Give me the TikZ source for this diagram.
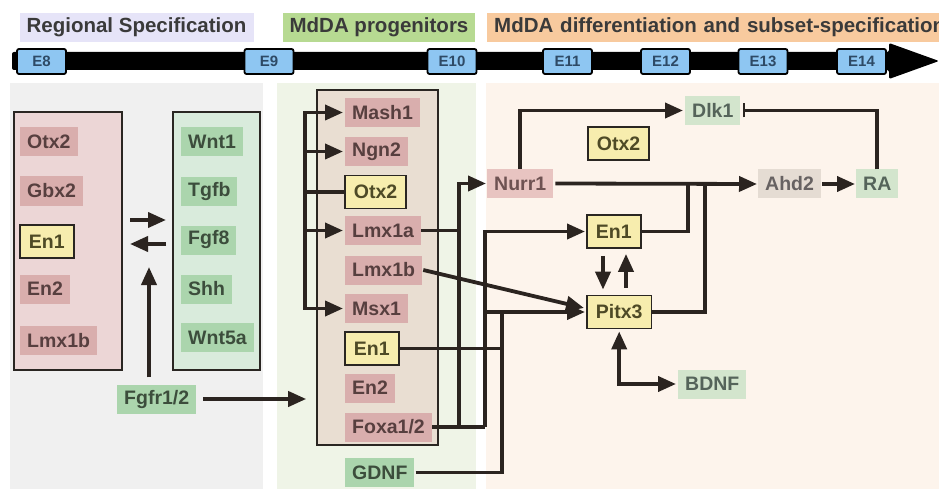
\documentclass[tikz,border=0pt]{standalone}
\usepackage{fontspec}
\setmainfont{Liberation Sans}
\usetikzlibrary{arrows.meta,calc}

% panel and label colours
\definecolor{panelgray}{HTML}{F0F0F0}
\definecolor{panelgreen}{HTML}{EFF4E7}
\definecolor{panelorange}{HTML}{FDF4EC}
\definecolor{hdrlav}{HTML}{E6E4F8}
\definecolor{hdrgreen}{HTML}{B7DA92}
\definecolor{hdrorange}{HTML}{F8CA9E}
\definecolor{hdrtext}{HTML}{3A3A3A}
\definecolor{tblue}{HTML}{8EC6F2}
\definecolor{ttext}{HTML}{2E4A66}
\definecolor{leftpink}{HTML}{ECD6D6}
\definecolor{leftgreen}{HTML}{D9EBDC}
\definecolor{midbeige}{HTML}{E9DED2}
\definecolor{pinkfill}{HTML}{D9AEAD}
\definecolor{pinktext}{HTML}{573F3F}
\definecolor{greenfill}{HTML}{ABD5AD}
\definecolor{greentext}{HTML}{3C4D3C}
\definecolor{lpinkfill}{HTML}{E8C4C1}
\definecolor{lpinktext}{HTML}{6E5252}
\definecolor{lgreenfill}{HTML}{D3E5CD}
\definecolor{lgreentext}{HTML}{55645A}
\definecolor{greyfill}{HTML}{E5DCD3}
\definecolor{greytext}{HTML}{676262}
\definecolor{yelfill}{HTML}{F7EDAE}
\definecolor{yeltext}{HTML}{4E4A26}
\definecolor{edge}{HTML}{2A2622}
\definecolor{wirecol}{HTML}{2B2420}

\tikzset{
  lblfont/.style={font=\bfseries\fontsize{19.5}{22}\selectfont},
  lbl/.style={lblfont, anchor=west, inner xsep=7, inner ysep=0, minimum height=29},
  pinklab/.style={lbl, fill=pinkfill, text=pinktext},
  greenlab/.style={lbl, fill=greenfill, text=greentext},
  lpinklab/.style={lbl, fill=lpinkfill, text=lpinktext},
  lgreenlab/.style={lbl, fill=lgreenfill, text=lgreentext},
  greylab/.style={lbl, fill=greyfill, text=greytext},
  yelbox/.style={lbl, fill=yelfill, text=yeltext, draw=edge, line width=1.8, inner xsep=9, minimum height=33},
  hdr/.style={font=\bfseries\fontsize{20.5}{23}\selectfont, text=hdrtext, inner xsep=7, inner ysep=0, minimum height=29},
  tbox/.style={font=\bfseries\fontsize{15}{17}\selectfont, text=ttext, fill=tblue, draw=black, line width=1.8,
               rounded corners=2, minimum width=49, minimum height=25, inner sep=0},
  group/.style={draw=edge, line width=1.6},
  wire/.style={draw=wirecol, line width=3.8},
  arr/.style={wire, -{Triangle[length=18,width=15]}},
  arrtwo/.style={wire, {Triangle[length=18,width=15]}-{Triangle[length=18,width=15]}},
  inh/.style={wire, -{Bar[width=14,line width=2.6]}},
}

\begin{document}
\begin{tikzpicture}[x=1pt,y=-1pt]
\useasboundingbox (0,0) rectangle (939,489);
\begin{scope}
\clip (0,0) rectangle (939,489);
\fill[white] (0,0) rectangle (939,489);

% stage panels
\fill[panelgray] (10,83) rectangle (263,489);
\fill[panelgreen] (277,83) rectangle (476,489);
\fill[panelorange] (486,83) rectangle (945,489);

% stage headers
\node[hdr, fill=hdrlav, minimum width=234] (hReg) at (136.5,27.5) {Regional Specification};
\node[hdr, fill=hdrgreen, minimum width=192] (hProg) at (379,27.5) {MdDA progenitors};
\node[hdr, fill=hdrorange, anchor=west, minimum width=470, text width=456] (hDiff) at (487,27.5)
  {MdDA differentiation and subset-specification};

% time axis
\fill[black, rounded corners=2] (12,52) -- (889,52) -- (889,43) -- (939,61) -- (889,79) -- (889,70) -- (12,70) -- cycle;
\node[tbox] (e8)  at (41.5,61.5) {E8};
\node[tbox] (e9)  at (269,61.5) {E9};
\node[tbox] (e10) at (452,61.5) {E10};
\node[tbox] (e11) at (567.5,61.5) {E11};
\node[tbox] (e12) at (665.5,61.5) {E12};
\node[tbox] (e13) at (763,61.5) {E13};
\node[tbox] (e14) at (861.5,61.5) {E14};

% regional specification groups
\node[group, fill=leftpink, minimum width=108, minimum height=258] (leftbox) at (68,241) {};
\node[group, fill=leftgreen, minimum width=87, minimum height=258] (rightbox) at (216.5,241) {};

\node[pinklab] (lOtx2) at (20,141.5) {Otx2};
\node[pinklab] (lGbx2) at (20,191) {Gbx2};
\node[yelbox]  (lEn1)  at (19,241.5) {En1};
\node[pinklab] (lEn2)  at (20,289) {En2};
\node[pinklab] (lLmx1b) at (20,340.5) {Lmx1b};

\node[greenlab] (gWnt1) at (181,142) {Wnt1};
\node[greenlab] (gTgfb) at (181,191.5) {Tgfb};
\node[greenlab] (gFgf8) at (181,240) {Fgf8};
\node[greenlab] (gShh)  at (181,289) {Shh};
\node[greenlab] (gWnt5a) at (181,337.5) {Wnt5a};

\node[greenlab] (Fgfr) at (117,399) {Fgfr1/2};

% progenitor group
\node[group, fill=midbeige, minimum width=121, minimum height=355] (midbox) at (377.5,267.5) {};
\node[pinklab] (mMash1) at (345,112.5) {Mash1};
\node[pinklab] (mNgn2)  at (345,151.5) {Ngn2};
\node[yelbox]  (mOtx2)  at (344,192) {Otx2};
\node[pinklab] (mLmx1a) at (345,230.5) {Lmx1a};
\node[pinklab] (mLmx1b) at (345,270) {Lmx1b};
\node[pinklab] (mMsx1)  at (345,308.5) {Msx1};
\node[yelbox]  (mEn1)   at (344,348.5) {En1};
\node[pinklab] (mEn2)   at (345,388) {En2};
\node[pinklab] (mFoxa)  at (345,427) {Foxa1/2};
\node[greenlab] (GDNF)  at (345,472.5) {GDNF};

% differentiation stage
\node[lpinklab]  (Nurr1) at (487,183.5) {Nurr1};
\node[yelbox]    (rOtx2) at (587,143.5) {Otx2};
\node[yelbox]    (rEn1)  at (586,231.5) {En1};
\node[yelbox]    (Pitx3) at (586,312) {Pitx3};
\node[lgreenlab] (Dlk1)  at (685,110.5) {Dlk1};
\node[greylab]   (Ahd2)  at (758,184) {Ahd2};
\node[lgreenlab] (RA)    at (856,184) {RA};
\node[lgreenlab] (BDNF)  at (678,384) {BDNF};

% routing columns
\coordinate (busx) at (305,0);
\coordinate (jA) at (459,0);
\coordinate (jB) at (485,0);
\coordinate (jC) at (502,0);
\coordinate (jD) at (688,0);
\coordinate (jE) at (705,0);
\coordinate (cDown) at (603,0);
\coordinate (cUp) at (626,0);
\coordinate (aR1) at (130,220);
\coordinate (aR2) at (166,220);
\coordinate (aL1) at (166,244);
\coordinate (aL2) at (130,244);
\coordinate (fgUp) at (149,267);

% exchange between the two regional groups
\draw[arr] (aR1) -- (aR2);
\draw[arr] (aL1) -- (aL2);
\draw[arr] ($(Fgfr.north -| fgUp)+(0,-7)$) -- (fgUp);
\draw[arr] ($(Fgfr.east)+(7,0)$) -- ($(Fgfr.east -| midbox.west)+(-10,0)$);

% Otx2 bus inside the progenitor stage
\draw[wire, line cap=rect] (mMash1.west -| busx) -- (mMsx1.west -| busx);
\draw[arr] (mMash1.west -| busx) -- ($(mMash1.west)+(-2,0)$);
\draw[arr] (mNgn2.west -| busx) -- ($(mNgn2.west)+(-2,0)$);
\draw[wire] (mOtx2.west -| busx) -- (mOtx2.west);
\draw[arr] (mLmx1a.west -| busx) -- ($(mLmx1a.west)+(-2,0)$);
\draw[arr] (mMsx1.west -| busx) -- ($(mMsx1.west)+(-2,0)$);

% Lmx1a, Foxa1/2 -> Nurr1
\draw[wire] (mLmx1a.east) -- (mLmx1a.east -| jA);
\draw[arr] (mFoxa.east -| jA) -- (Nurr1.west -| jA) -- ($(Nurr1.west)+(-1,0)$);
% Foxa1/2 -> En1, Pitx3
\draw[wire] (mFoxa.east) -- (mFoxa.east -| jB);
\draw[arr] (mFoxa.east -| jB) -- (rEn1.west -| jB) -- ($(rEn1.west)+(-1,0)$);
\draw[arr] (Pitx3.west -| jB) -- ($(Pitx3.west)+(-1,0)$);
% En1, GDNF -> Pitx3
\draw[wire] (mEn1.east) -- (mEn1.east -| jC);
\draw[wire] ($(GDNF.east)+(1,0)$) -- (GDNF.east -| jC) -- (Pitx3.west -| jC);
% Lmx1b -> Pitx3
\draw[arr] ($(mLmx1b.east)+(1,0)$) -- ($(Pitx3.west)+(-2,-4)$);

% En1 <-> Pitx3
\draw[arr] ($(rEn1.south -| cDown)+(0,7)$) -- ($(Pitx3.north -| cDown)+(0,-5)$);
\draw[arr] ($(Pitx3.north -| cUp)+(0,-7)$) -- ($(rEn1.south -| cUp)+(0,5)$);

% Nurr1, En1, Pitx3 -> Ahd2 -> RA
\draw[arr] ($(Nurr1.east)+(2,0)$) -- ($(Ahd2.west)+(-1,0)$);
\draw[wire] (rEn1.east) -- (rEn1.east -| jD) -- (Nurr1.east -| jD);
\draw[wire] (Pitx3.east) -- (Pitx3.east -| jE) -- (Nurr1.east -| jE);
\draw[arr] ($(Ahd2.east)+(1,0)$) -- ($(RA.west)+(-1,0)$);

% Nurr1 -> Dlk1, RA -| Dlk1
\draw[arr] (Nurr1.north) -- (Nurr1.north |- Dlk1.west) -- ($(Dlk1.west)+(-2,0)$);
\draw[inh] (RA.north) -- (RA.north |- Dlk1.east) -- ($(Dlk1.east)+(2,0)$);

% Pitx3 <-> BDNF
\draw[arrtwo] ($(Pitx3.south)+(0,2)$) -- (Pitx3.south |- BDNF.west) -- ($(BDNF.west)+(-2,0)$);
\end{scope}
\end{tikzpicture}
\end{document}
